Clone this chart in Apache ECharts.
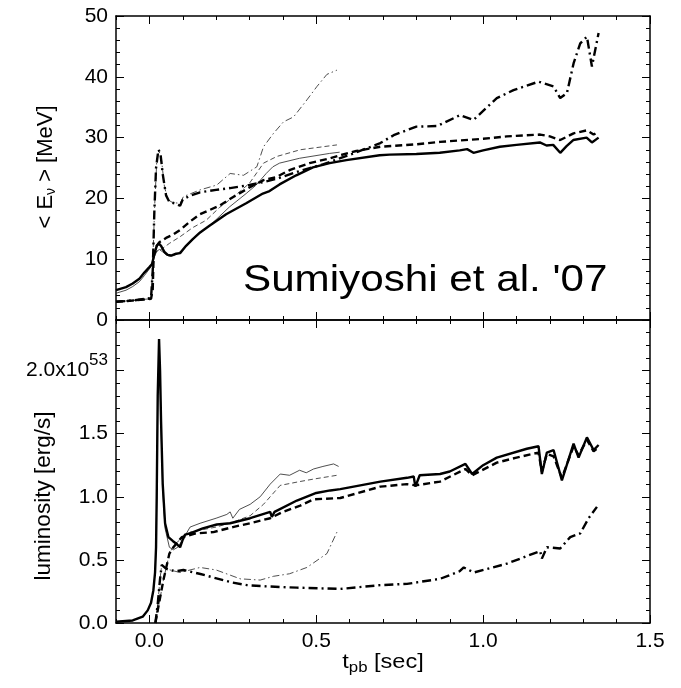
<!DOCTYPE html>
<html><head><meta charset="utf-8">
<script src="https://cdn.jsdelivr.net/npm/echarts@6/dist/echarts.min.js"></script>
<style>html,body{margin:0;padding:0;background:#fff}#c{width:681px;height:688px}</style>
</head><body><div id="c"></div>
<script>
// ---- data: [t_pb (s), value] ----
// Top panel: mean energy <E_nu> [MeV]
var eThickSolid = [[-0.1,4.9],[-0.07,5.4],[-0.05,6.0],[-0.03,6.8],[-0.015,7.8],[0.0,8.7],[0.008,9.2],[0.015,10.8],[0.022,12.2],[0.028,12.6],[0.035,12.2],[0.045,11.2],[0.055,10.7],[0.065,10.6],[0.08,10.9],[0.092,11.0],[0.11,12.2],[0.13,13.3],[0.152,14.4],[0.18,15.5],[0.23,17.4],[0.29,19.2],[0.34,20.8],[0.36,21.2],[0.39,22.3],[0.44,23.8],[0.49,25.1],[0.54,25.8],[0.59,26.3],[0.69,27.1],[0.72,27.2],[0.8,27.3],[0.87,27.5],[0.93,27.9],[0.952,28.1],[0.971,27.5],[1.0,27.9],[1.05,28.5],[1.1,28.8],[1.17,29.2],[1.19,28.7],[1.21,28.8],[1.231,27.5],[1.25,28.6],[1.27,29.6],[1.31,30.0],[1.326,29.2],[1.346,30.0]];
var eThickDash = [[-0.1,3.0],[-0.05,3.2],[0.005,3.5],[0.01,5.0],[0.013,11.0],[0.02,12.0],[0.03,12.8],[0.05,13.5],[0.07,14.0],[0.092,14.8],[0.122,16.2],[0.152,17.4],[0.21,18.8],[0.25,20.2],[0.3,21.8],[0.342,23.0],[0.38,23.5],[0.422,24.7],[0.48,25.8],[0.542,26.6],[0.572,27.1],[0.62,27.8],[0.692,28.5],[0.8,28.9],[0.871,29.3],[1.0,29.8],[1.071,30.2],[1.171,30.5],[1.2,30.2],[1.231,29.6],[1.271,30.7],[1.311,31.2],[1.331,30.5],[1.346,31.0]];
var eThickDashDot = [[-0.1,3.0],[-0.05,3.2],[0.005,3.6],[0.01,8.0],[0.015,18.0],[0.02,25.0],[0.027,28.0],[0.033,27.5],[0.04,24.0],[0.05,20.5],[0.06,19.4],[0.075,19.2],[0.092,18.8],[0.1,19.8],[0.12,20.4],[0.152,21.0],[0.2,21.4],[0.242,21.7],[0.3,22.2],[0.342,22.7],[0.38,23.2],[0.45,24.5],[0.52,25.6],[0.612,27.4],[0.692,29.1],[0.732,30.4],[0.8,31.8],[0.862,31.9],[0.931,33.7],[0.971,32.9],[1.041,36.5],[1.091,37.8],[1.166,39.2],[1.211,38.4],[1.231,36.5],[1.251,37.3],[1.271,42.2],[1.291,45.5],[1.311,46.6],[1.326,41.7],[1.346,47.2]];
var eThinSolid = [[-0.1,4.4],[-0.07,4.9],[-0.05,5.5],[-0.03,6.3],[-0.015,7.3],[0.0,8.4],[0.008,9.0],[0.015,10.4],[0.022,11.3],[0.03,11.6],[0.04,11.2],[0.05,10.7],[0.06,10.5],[0.075,10.6],[0.092,11.2],[0.12,12.6],[0.15,14.2],[0.19,16.0],[0.24,18.6],[0.29,20.8],[0.32,22.2],[0.35,24.1],[0.37,25.2],[0.39,25.8],[0.45,26.6],[0.54,27.4],[0.57,27.6]];
var eThinDash = [[-0.1,3.0],[0.005,3.4],[0.012,10.5],[0.02,11.2],[0.035,11.6],[0.06,12.6],[0.092,13.7],[0.13,15.2],[0.17,16.4],[0.21,18.5],[0.26,20.6],[0.3,22.5],[0.342,25.8],[0.382,26.9],[0.452,28.0],[0.562,28.8]];
var eThinDashDot = [[-0.1,3.0],[0.005,3.5],[0.01,9.0],[0.016,19.0],[0.022,26.0],[0.028,27.8],[0.035,27.0],[0.045,22.0],[0.055,19.8],[0.07,19.3],[0.092,19.2],[0.102,20.3],[0.152,21.4],[0.202,22.2],[0.242,24.1],[0.282,23.8],[0.322,25.2],[0.342,28.5],[0.372,30.7],[0.402,32.6],[0.432,33.4],[0.472,36.2],[0.502,38.4],[0.532,40.4],[0.562,41.1]];
// Bottom panel: luminosity [10^53 erg/s]
var lThickSolid = [[-0.1,0.01],[-0.05,0.02],[-0.02,0.05],[-0.005,0.1],[0.005,0.16],[0.012,0.26],[0.017,0.4],[0.02,0.6],[0.022,1.0],[0.025,1.8],[0.029,2.25],[0.032,2.0],[0.035,1.6],[0.04,1.1],[0.047,0.79],[0.057,0.68],[0.07,0.65],[0.08,0.63],[0.092,0.6],[0.1,0.66],[0.107,0.7],[0.122,0.71],[0.16,0.75],[0.202,0.78],[0.242,0.79],[0.302,0.83],[0.35,0.87],[0.362,0.88],[0.367,0.84],[0.375,0.88],[0.442,0.97],[0.5,1.03],[0.542,1.05],[0.572,1.06],[0.692,1.12],[0.772,1.15],[0.792,1.16],[0.797,1.08],[0.81,1.17],[0.871,1.18],[0.9,1.2],[0.947,1.26],[0.967,1.18],[1.0,1.25],[1.041,1.31],[1.131,1.38],[1.166,1.4],[1.176,1.18],[1.191,1.35],[1.211,1.37],[1.236,1.13],[1.271,1.42],[1.286,1.31],[1.311,1.47],[1.331,1.37],[1.346,1.41]];
var lThickDash = [[0.018,0.0],[0.025,0.1],[0.042,0.34],[0.06,0.55],[0.072,0.6],[0.097,0.68],[0.14,0.71],[0.192,0.72],[0.25,0.76],[0.302,0.79],[0.362,0.83],[0.4,0.88],[0.452,0.93],[0.492,0.98],[0.572,0.99],[0.692,1.08],[0.772,1.1],[0.797,1.09],[0.871,1.12],[0.947,1.22],[0.967,1.17],[1.041,1.27],[1.1,1.31],[1.166,1.35],[1.176,1.2],[1.191,1.34],[1.211,1.32],[1.236,1.15],[1.271,1.4],[1.286,1.33],[1.311,1.45],[1.331,1.36],[1.346,1.39]];
var lThickDashDot = [[0.018,0.0],[0.025,0.15],[0.032,0.35],[0.037,0.46],[0.05,0.43],[0.062,0.42],[0.08,0.41],[0.102,0.42],[0.15,0.39],[0.192,0.36],[0.25,0.32],[0.292,0.3],[0.35,0.29],[0.442,0.28],[0.572,0.27],[0.692,0.3],[0.772,0.31],[0.871,0.35],[0.93,0.41],[0.942,0.44],[0.972,0.4],[1.071,0.47],[1.171,0.57],[1.176,0.51],[1.191,0.6],[1.231,0.59],[1.261,0.68],[1.291,0.71],[1.316,0.83],[1.341,0.92]];
var lThinSolid = [[-0.1,0.01],[-0.05,0.02],[-0.02,0.05],[-0.005,0.1],[0.005,0.16],[0.012,0.26],[0.017,0.4],[0.02,0.6],[0.022,1.0],[0.025,1.8],[0.029,2.2],[0.032,1.95],[0.035,1.55],[0.04,1.05],[0.047,0.75],[0.06,0.6],[0.072,0.58],[0.085,0.6],[0.1,0.66],[0.122,0.76],[0.152,0.79],[0.2,0.83],[0.232,0.86],[0.242,0.88],[0.25,0.83],[0.27,0.9],[0.302,0.94],[0.332,1.0],[0.362,1.1],[0.392,1.18],[0.42,1.17],[0.45,1.21],[0.47,1.19],[0.492,1.22],[0.52,1.24],[0.552,1.26],[0.567,1.24]];
var lThinDash = [[0.02,0.02],[0.042,0.34],[0.06,0.55],[0.075,0.62],[0.092,0.66],[0.122,0.72],[0.2,0.76],[0.252,0.8],[0.302,0.85],[0.342,0.94],[0.392,1.09],[0.45,1.12],[0.492,1.14],[0.562,1.17]];
var lThinDashDot = [[0.018,0.0],[0.025,0.15],[0.032,0.35],[0.037,0.46],[0.05,0.43],[0.062,0.42],[0.092,0.4],[0.152,0.44],[0.2,0.42],[0.272,0.35],[0.332,0.34],[0.372,0.37],[0.42,0.39],[0.472,0.44],[0.532,0.55],[0.562,0.72]];
// tick labels
var xMajorTicks = [0, 0.5, 1.0, 1.5];
var lMajorTicks = [0, 0.5, 1.0, 1.5, 2.0];

var FONT = '"Liberation Sans", Arial, Helvetica, sans-serif';
var chart = echarts.init(document.getElementById('c'), null, {renderer: 'canvas'});
var AL = {show: true, onZero: false, lineStyle: {color: '#000', width: 1.5}};
var NOAL = {show: false, onZero: false};

function xAx(grid, pos, long, labels) {
  var o = {type: 'value', gridIndex: grid, position: pos, min: -0.1, max: 1.5,
    axisLine: long ? NOAL : AL, splitLine: {show: false},
    axisTick: {show: true, inside: true, length: long ? 8 : 4, lineStyle: {color: '#000', width: 1}},
    axisLabel: {show: false}};
  if (long) {
    o.axisTick.customValues = xMajorTicks;
    if (labels) {
      o.axisLabel = {show: true, customValues: xMajorTicks, margin: 8, color: '#000', fontSize: 21, fontFamily: FONT,
        formatter: function (v) { return v.toFixed(1); }};
    }
  } else { o.interval = 0.1; }
  return o;
}
function yAx(grid, pos, min, max, cfg) {
  var o = {type: 'value', gridIndex: grid, position: pos, min: min, max: max,
    axisLine: cfg.line ? AL : NOAL, splitLine: {show: false},
    axisTick: {show: true, inside: true, length: cfg.len, lineStyle: {color: '#000', width: 1}},
    axisLabel: {show: false}};
  if (cfg.interval) o.interval = cfg.interval;
  if (cfg.minor) o.minorTick = {show: true, splitNumber: cfg.minor, length: 4, lineStyle: {color: '#000', width: 1}};
  if (cfg.custom) o.axisTick.customValues = cfg.custom;
  if (cfg.labels) {
    o.axisLabel = {show: true, margin: 8, color: '#000', fontSize: 21, fontFamily: FONT,
      formatter: cfg.fmt,
      rich: {a: {fontSize: 21, fontFamily: FONT, color: '#000'}, s: {fontSize: 17, fontFamily: FONT, color: '#000', padding: [0, 0, 20, 0]}}};
    if (cfg.custom) o.axisLabel.customValues = cfg.custom;
  }
  return o;
}

function ser(data, xi, yi, width, type, color) {
  return {type: 'line', data: data, xAxisIndex: xi, yAxisIndex: yi, showSymbol: false, symbol: 'none',
    smooth: false, animation: false, clip: true,
    lineStyle: {color: color || '#000', width: width, type: type, cap: 'butt'}};
}
var DASH = [7, 4], DDOT = [9, 4, 2, 4], TDASH = [5, 3], TDDOT = [7, 3, 1.5, 3];

var option = {
  animation: false,
  backgroundColor: '#fff',
  grid: [
    {left: 116, right: 31, top: 16, height: 304, containLabel: false},
    {left: 116, right: 31, top: 320, height: 303, containLabel: false}
  ],
  xAxis: [
    xAx(0, 'bottom', false), xAx(0, 'top', false), xAx(0, 'bottom', true), xAx(0, 'top', true),
    xAx(1, 'bottom', false), xAx(1, 'top', false), xAx(1, 'bottom', true, true), xAx(1, 'top', true)
  ],
  yAxis: [
    yAx(0, 'left', 0, 50, {line: true, len: 8, interval: 10, minor: 5, labels: true, fmt: function (v) { return String(v); }}),
    yAx(0, 'right', 0, 50, {line: true, len: 8, interval: 10, minor: 5}),
    yAx(1, 'left', 0, 2.4, {line: true, len: 4, interval: 0.1}),
    yAx(1, 'right', 0, 2.4, {line: true, len: 4, interval: 0.1}),
    yAx(1, 'left', 0, 2.4, {line: false, len: 8, custom: lMajorTicks, labels: true,
      fmt: function (v) { return v > 1.9 ? '{a|' + v.toFixed(1) + 'x10}{s|53}' : v.toFixed(1); }}),
    yAx(1, 'right', 0, 2.4, {line: false, len: 8, custom: lMajorTicks})
  ],
  series: [
    ser(eThinDashDot, 0, 0, 0.8, TDDOT, '#222'),
    ser(eThinDash, 0, 0, 0.8, TDASH, '#222'),
    ser(eThinSolid, 0, 0, 0.8, 'solid', '#222'),
    ser(eThickDashDot, 0, 0, 2.4, DDOT),
    ser(eThickDash, 0, 0, 2.4, DASH),
    ser(eThickSolid, 0, 0, 2.4, 'solid'),
    ser(lThinDashDot, 4, 2, 0.8, TDDOT, '#222'),
    ser(lThinDash, 4, 2, 0.8, TDASH, '#222'),
    ser(lThinSolid, 4, 2, 0.8, 'solid', '#222'),
    ser(lThickDashDot, 4, 2, 2.4, DDOT),
    ser(lThickDash, 4, 2, 2.4, DASH),
    ser(lThickSolid, 4, 2, 2.4, 'solid')
  ],
  graphic: [
    {type: 'text', x: 243, y: 262, scaleX: 1.14, style: {text: "Sumiyoshi et al. '07", font: '37px ' + FONT, fill: '#000'}},
    {type: 'text', x: 46, y: 167, rotation: Math.PI / 2, style: {
      text: '{a|< E}{b|ν}{a| > [MeV]}', align: 'center', verticalAlign: 'middle',
      rich: {a: {fontSize: 22, fontFamily: FONT, fill: '#000'}, b: {fontSize: 14, fontFamily: FONT, fill: '#000', padding: [11, 0, 0, 0]}}}},
    {type: 'text', x: 44, y: 496, rotation: Math.PI / 2, style: {
      text: 'luminosity [erg/s]', align: 'center', verticalAlign: 'middle', font: '22.5px ' + FONT, fill: '#000'}},
    {type: 'text', x: 383, y: 662, scaleX: 1.12, style: {
      text: '{a|t}{b|pb}{a| [sec]}', align: 'center', verticalAlign: 'middle',
      rich: {a: {fontSize: 21, fontFamily: FONT, fill: '#000'}, b: {fontSize: 15, fontFamily: FONT, fill: '#000', padding: [11, 0, 0, 0]}}}}
  ]
};
chart.setOption(option);
</script></body></html>
